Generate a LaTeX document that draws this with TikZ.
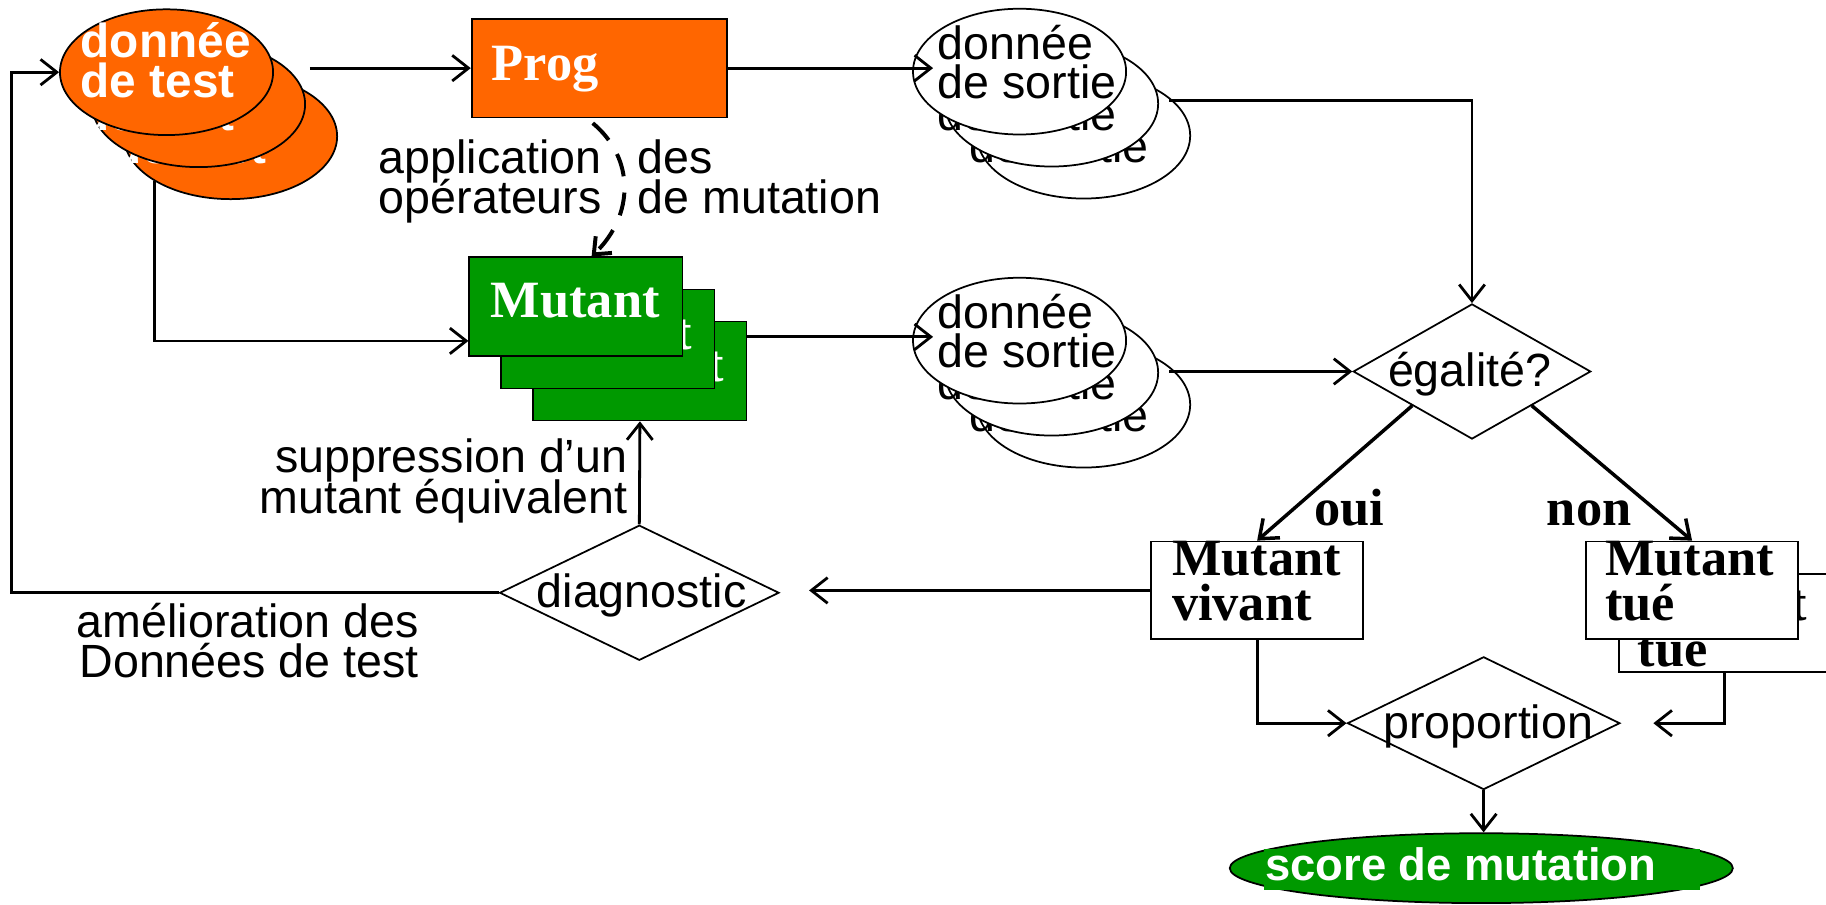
\documentclass[tikz,border=0pt]{standalone}
\usepackage{fontspec}
\setmainfont{Liberation Sans}
\newfontfamily\timesfam{Liberation Serif}
\usetikzlibrary{shapes.geometric,arrows.meta,calc}
\definecolor{progorange}{HTML}{FF6600}
\definecolor{mutgreen}{HTML}{009900}
\begin{document}
\begin{tikzpicture}[x=0.5pt,y=-0.5pt,
  shapeline/.style={draw=black,line width=0.75pt},
  orangeell/.style={shapeline,ellipse,fill=progorange,minimum width=91.5pt,minimum height=54pt,inner sep=0pt},
  outell/.style={shapeline,ellipse,fill=white,minimum width=91.5pt,minimum height=54pt,inner sep=0pt},
  progbox/.style={shapeline,rectangle,fill=progorange,minimum width=109.5pt,minimum height=42.5pt,inner sep=0pt},
  mutbox/.style={shapeline,rectangle,fill=mutgreen,minimum width=91.5pt,minimum height=42.5pt,inner sep=0pt},
  resbox/.style={shapeline,rectangle,fill=white,minimum width=91pt,minimum height=42pt,inner sep=0pt},
  decision/.style={shapeline,diamond,fill=white,inner sep=0pt},
  sans/.style={inner sep=0pt,font=\fontsize{20}{24}\selectfont},
  sansbold/.style={inner sep=0pt,text=white,font=\fontsize{20.5}{24}\selectfont\bfseries},
  serifbold/.style={inner sep=0pt,font=\timesfam\bfseries\fontsize{22.5}{27}\selectfont},
  conn/.style={line width=1.2pt,-{Straight Barb[length=7pt,width=11pt]}},
  heavyconn/.style={line width=1.5pt,-{Straight Barb[length=7pt,width=11pt]}},
  dashconn/.style={line width=1.7pt,dash pattern=on 10pt off 7pt,-{Straight Barb[length=6pt,width=10pt]}}
]
\useasboundingbox (0,0) rectangle (1568,777);

% stacked test data ellipses, back to front (\d: shape shift, \e/\f: text shift)
\foreach \k/\d/\e/\f in {3/55/27.5/56,2/27.5/0/28,1/0/0/0}{
  \node[orangeell] (o\k) at (143+\d,62+\d) {};
  \node[sansbold,anchor=base west] (oa\k) at (69+\e,49+\f) {donnée};
  \node[sansbold,anchor=base west] (ob\k) at (69+\e,84+\f) {de test};
}

% program under test
\node[progbox] (prog) at (514.5,58.5) {};
\node[serifbold,text=white,anchor=base west] (progt) at ($(prog.center)+(-92.5,10.5)$) {Prog};

% stacked mutants
\foreach \k/\d in {3/55,2/27.5,1/0}{
  \node[mutbox] (m\k) at (494.5+\d,263.5+\d) {};
  \node[serifbold,text=white,anchor=base west] (mt\k) at ($(m\k.center)+(-73.5,9.5)$) {Mutant};
}

% output data of the program
\foreach \k/\d/\e/\f in {3/55/27.5/55,2/27.5/0/27.5,1/0/0/0}{
  \node[outell] (s\k) at (875.5+\d,61.5+\d) {};
  \node[sans,anchor=base west] (sa\k) at (805+\e,51.5+\f) {donnée};
  \node[sans,anchor=base west] (sb\k) at (805+\e,84.5+\f) {de sortie};
}
% output data of the mutants
\foreach \k/\d/\e/\f in {6/55/27.5/55,5/27.5/0/27.5,4/0/0/0}{
  \node[outell] (s\k) at (875.5+\d,292.5+\d) {};
  \node[sans,anchor=base west] (sa\k) at (805+\e,282.5+\f) {donnée};
  \node[sans,anchor=base west] (sb\k) at (805+\e,315.5+\f) {de sortie};
}

% decisions
\node[decision,minimum width=102pt,minimum height=58pt] (eg) at (1264,319) {};
\node[sans,anchor=base] (egt) at (1262,332) {égalité?};
\node[decision,minimum width=120pt,minimum height=58pt] (dg) at (549,509) {};
\node[sans,anchor=base] (dgt) at (551,522) {diagnostic};
\node[decision,minimum width=117pt,minimum height=57pt] (pr) at (1274,621) {};
\node[sans,anchor=base] (prt) at (1278,634) {proportion};

% verdicts
\node[resbox] (vv) at (1079.5,507) {};
\node[serifbold,anchor=base west] (vva) at ($(vv.center)+(-73.5,-13)$) {Mutant};
\node[serifbold,anchor=base west] (vvb) at ($(vv.center)+(-73.5,26)$) {vivant};
\foreach \k/\d/\f in {2/28/39,1/0/0}{
  \node[resbox] (t\k) at (1453+\d,507+\d) {};
  \node[serifbold,anchor=base west] (ta\k) at (1378+\d,494+\f) {Mutant};
  \node[serifbold,anchor=base west] (tb\k) at (1378+\d,533+\f) {tué};
}

% mutation score
\node[shapeline,ellipse,fill=mutgreen,minimum width=216pt,minimum height=30pt,inner sep=0pt] (sc) at (1272,745.5) {};
\fill[mutgreen] (1085,729) rectangle (1460,764);
\node[inner sep=0pt,text=white,font=\fontsize{19.5}{23}\selectfont\bfseries,anchor=base west] (sct) at (1086,756) {score de mutation};

% free labels
\node[sans,anchor=base west] (ap1) at (325,149) {application\hspace{15.5pt}des};
\node[sans,anchor=base west] (ap2) at (325,183) {opérateurs\hspace{15.5pt}de mutation};
\node[sans,anchor=base east] (su1) at (539,406) {suppression d’un};
\node[sans,anchor=base east] (su2) at (539,441) {mutant équivalent};
\node[sans,anchor=base east] (am1) at (360,547) {amélioration des};
\node[sans,anchor=base east] (am2) at (360,582) {Données de test};
\node[serifbold,anchor=base west] (oui) at (1128,451) {oui};
\node[serifbold,anchor=base west] (non) at (1328,451) {non};

% connector ends
\coordinate (loopx) at (10,0);
\coordinate (tdout) at (266,58.5);
\coordinate (s1in) at ($(s1.west)+(18,0)$);
\coordinate (s4in) at ($(s4.west)+(18,0)$);
\coordinate (s3out) at (1004,86);
\coordinate (s6outx) at (1004,0);
\coordinate (tdown) at (133,155);
\coordinate (mutin) at ($(m1.south west)+(0,-14)$);
\coordinate (mutout) at ($(m3.north east)+(0,14)$);
\coordinate (vvend) at ($(dg.east)+(25,0)$);
\coordinate (tuend) at ($(pr.east)+(28,0)$);

% connectors
\draw[conn] (dg.west) -- (dg.west -| loopx) |- (o1.west);
\draw[conn] (tdout) -- (prog.west);
\draw[conn] (prog.east) -- (s1in |- prog.east);
\draw[conn] (s3out) -| (eg.north);
\draw[conn] (tdown) |- (mutin);
\draw[conn] (mutout) -- (s4in |- mutout);
\draw[conn] (eg.west -| s6outx) -- (eg.west);
\draw[dashconn] ($(prog.south)+(-5.5,4)$) .. controls +(36,30) and +(37,-36) .. ($(m1.north)+(13.5,0)$);
\draw[conn] (dg.north) -- (m3.south);
\draw[heavyconn] (eg.south west) -- (vv.north);
\draw[heavyconn] (eg.south east) -- (t1.north);
\draw[conn] (vv.west) -- (vv.west -| vvend);
\draw[conn] (vv.south) |- (pr.west);
\draw[conn] (t2.south) |- (tuend);
\draw[conn] (pr.south) -- (pr.south |- sc.north);
\end{tikzpicture}
\end{document}
